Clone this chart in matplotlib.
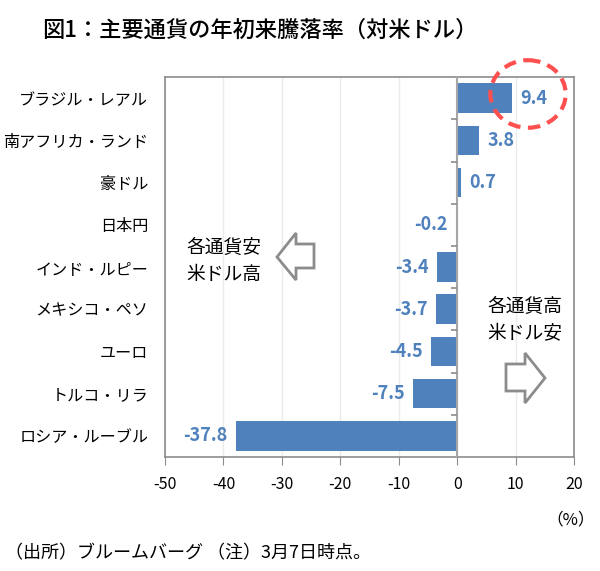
import matplotlib
matplotlib.use("Agg")
import matplotlib.pyplot as plt
from matplotlib.patches import Ellipse, Polygon

plt.rcParams["font.family"] = ["Noto Sans CJK JP", "DejaVu Sans"]

currencies = ["ブラジル・レアル", "南アフリカ・ランド", "豪ドル", "日本円", "インド・ルピー",
              "メキシコ・ペソ", "ユーロ", "トルコ・リラ", "ロシア・ルーブル"]
changes = [9.4, 3.8, 0.7, -0.2, -3.4, -3.7, -4.5, -7.5, -37.8]
xticks = [-50, -40, -30, -20, -10, 0, 10, 20]

BLUE = "#4F81BD"
GRAY = "#8C8C8C"

fig = plt.figure(figsize=(6, 5.71), dpi=100)
ax = fig.add_axes([0.275, 0.1996, 0.682, 0.6654])

ypos = list(range(len(currencies)))
ax.barh(ypos, changes, height=0.7, color=BLUE, zorder=3)
ax.set_ylim(len(currencies) - 0.5, -0.5)
ax.set_xlim(-50, 20)

# value labels
for y, v in zip(ypos, changes):
    if v >= 0:
        ax.annotate(f"{v:.1f}", (v, y), xytext=(6, 0), textcoords="offset points",
                    ha="left", va="center", color=BLUE, fontsize=13, fontweight="bold", zorder=5)
    else:
        ax.annotate(f"{v:.1f}", (v, y), xytext=(-6, 0), textcoords="offset points",
                    ha="right", va="center", color=BLUE, fontsize=13, fontweight="bold", zorder=5)

# axes styling
ax.set_xticks(xticks)
ax.set_xticklabels([str(t) for t in xticks], fontsize=11.5)
ax.tick_params(axis="x", direction="out", length=6, color=GRAY, pad=8)
ax.set_yticks(ypos)
ax.set_yticklabels(currencies, fontsize=11.6)
ax.tick_params(axis="y", length=0, pad=12)
ax.grid(axis="x", color="#EBEBEB", linewidth=1, zorder=0)
for s in ax.spines.values():
    s.set_color(GRAY)
    s.set_linewidth(1.2)

# zero axis with category ticks
ax.axvline(0, color="#A6A6A6", linewidth=1.5, zorder=4)
ax.hlines([i + 0.5 for i in ypos[:-1]], -1.0, 0, color=GRAY, linewidth=1.2, zorder=4)

# dashed circle around Brazil
ax.add_patch(Ellipse((12.1, -0.1), 12.9, 1.6, fill=False, edgecolor="#FF5050",
                     linestyle=(0, (3, 1.8)), linewidth=3, clip_on=False, zorder=6))

# arrows (figure pixel coords, y from top)
H = 571
def px(pts):
    return [(x / 600, 1 - y / H) for x, y in pts]

left_arrow = [(277, 257), (296, 233), (296, 244), (314, 244), (314, 268), (296, 268), (296, 280)]
right_arrow = [(545, 378), (525, 353), (525, 364), (506, 364), (506, 391), (525, 391), (525, 403)]
for pts in (left_arrow, right_arrow):
    fig.patches.append(Polygon(px(pts), closed=True, facecolor="white", edgecolor=GRAY,
                               linewidth=2, transform=fig.transFigure))

fig.text(224 / 600, 1 - 261 / H, "各通貨安\n米ドル高", ha="center", va="center",
         fontsize=13.5, linespacing=1.4)
fig.text(525 / 600, 1 - 320 / H, "各通貨高\n米ドル安", ha="center", va="center",
         fontsize=13.5, linespacing=1.4)

fig.text(260 / 600, 1 - 30 / H, "図1：主要通貨の年初来騰落率（対米ドル）", ha="center", va="center",
         fontsize=16, fontweight="medium")
fig.text(571 / 600, 1 - 520 / H, "（%）", ha="center", va="center", fontsize=12)
fig.text(5 / 600, 1 - 553 / H, "（出所）ブルームバーグ （注）3月7日時点。", ha="left", va="center",
         fontsize=13)

fig.savefig("out.png", dpi=100)
